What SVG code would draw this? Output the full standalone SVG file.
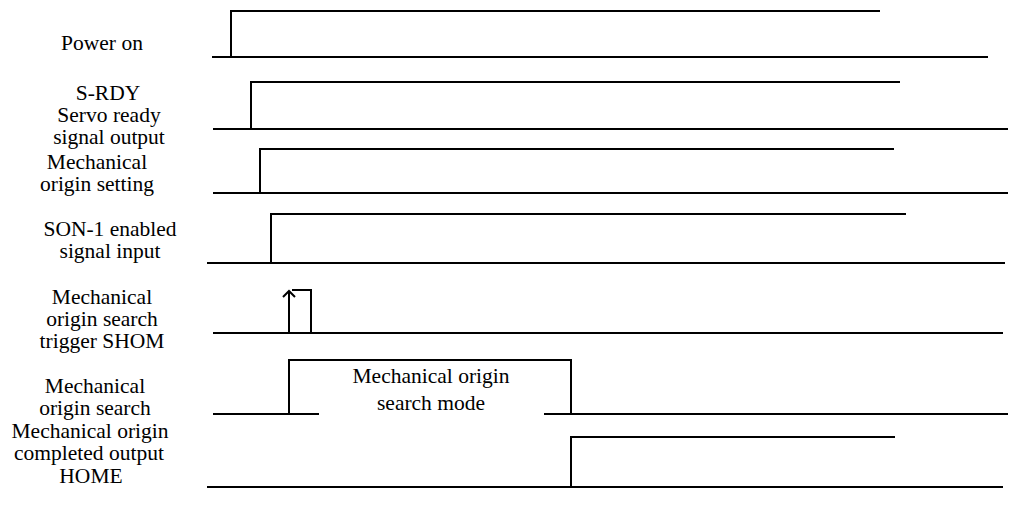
<svg xmlns="http://www.w3.org/2000/svg" width="1011" height="508" viewBox="0 0 1011 508">
<style>
.sig{fill:none;stroke:#000;stroke-width:2;stroke-linejoin:miter}
.lbl{font-family:'Liberation Serif','Times New Roman',Tinos,'DejaVu Serif',serif;font-size:21.5px;fill:#000;text-anchor:middle}
</style>
<rect width="1011" height="508" fill="#fff"/>
<g id="labels" font-family="Liberation Serif, Times New Roman, serif">
<g id="label-power"><text class="lbl" x="102" y="50">Power on</text></g>
<g id="label-srdy"><text class="lbl" x="108" y="100">S-RDY</text><text class="lbl" x="109" y="122">Servo ready</text><text class="lbl" x="109" y="144">signal output</text></g>
<g id="label-mos"><text class="lbl" x="97" y="169">Mechanical</text><text class="lbl" x="97" y="191">origin setting</text></g>
<g id="label-son"><text class="lbl" x="110" y="236">SON-1 enabled</text><text class="lbl" x="110" y="258">signal input</text></g>
<g id="label-shom"><text class="lbl" x="102" y="304">Mechanical</text><text class="lbl" x="102" y="326">origin search</text><text class="lbl" x="102" y="348">trigger SHOM</text></g>
<g id="label-search"><text class="lbl" x="95" y="393">Mechanical</text><text class="lbl" x="95" y="415">origin search</text></g>
<g id="label-home"><text class="lbl" x="90" y="438">Mechanical origin</text><text class="lbl" x="89" y="460">completed output</text><text class="lbl" x="91" y="483">HOME</text></g>
</g>
<g id="connectors">
<g id="sig-power"><path class="sig" d="M212 57 H988"/><path class="sig" d="M231 57 V11 H880"/></g>
<g id="sig-srdy"><path class="sig" d="M213 129 H1008"/><path class="sig" d="M251 129 V82 H900"/></g>
<g id="sig-mos"><path class="sig" d="M213 193 H1008"/><path class="sig" d="M260 194 V149 H894"/></g>
<g id="sig-son"><path class="sig" d="M207 263 H1005"/><path class="sig" d="M271 263 V214 H906"/></g>
<g id="sig-shom"><path class="sig" d="M213 333 H1003"/><path class="sig" d="M289 333 V291"/><path class="sig" d="M283 297 L289 291 L295 297"/><path class="sig" d="M292 290 H311 V333"/></g>
<g id="sig-search"><path class="sig" d="M213 414 H1008"/><path class="sig" d="M289 414 V360 H571 V414"/></g>
<g id="sig-home"><path class="sig" d="M207 487 H1003"/><path class="sig" d="M571 487 V437 H895"/></g>
</g>
<g id="mode-box" font-family="Liberation Serif, Times New Roman, serif">
<rect x="319" y="363" width="225" height="57" fill="#fff"/>
<text class="lbl" x="431" y="383">Mechanical origin</text>
<text class="lbl" x="431" y="410">search mode</text>
</g>
</svg>
